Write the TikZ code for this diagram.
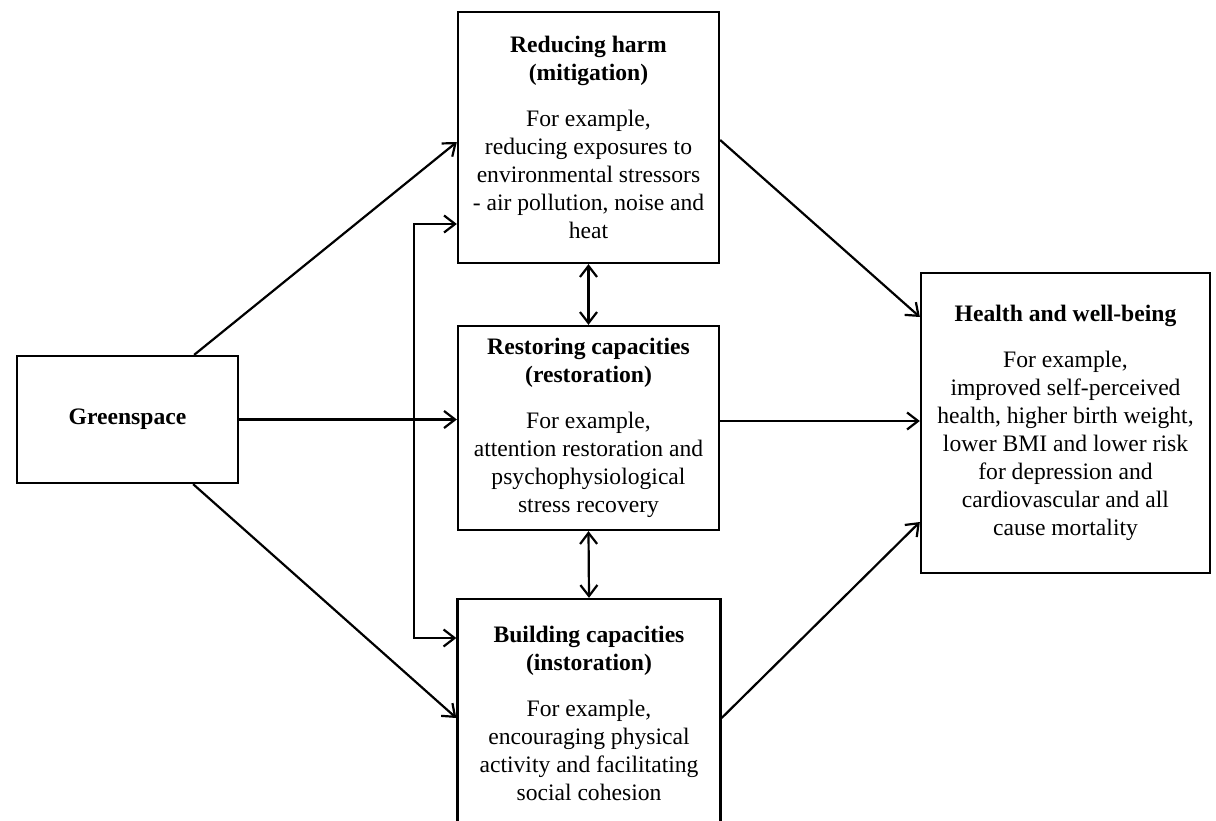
\documentclass[tikz,border=0pt]{standalone}
\usepackage{fontspec}
\setmainfont{Liberation Serif}
\usetikzlibrary{arrows.meta}
\tikzset{
  box/.style={draw, line width=2.3pt, rectangle, align=center, inner sep=0pt,
    font=\fontsize{23.6}{28}\selectfont},
  tip/.style={arrows={-Straight Barb[length=11pt,width=17pt]}},
  conn/.style={line width=2.2pt, tip},
  biconn/.style={line width=2.2pt, arrows={Straight Barb[length=11pt,width=17pt]-Straight Barb[length=11pt,width=17pt]}}
}
\begin{document}
\begin{tikzpicture}[x=1pt,y=-1pt]
\useasboundingbox (0,0) rectangle (1216,821);
\clip (0,0) rectangle (1216,821);
\node[box, minimum width=221pt, minimum height=127pt] (G) at (127.5,419.5) {\textbf{Greenspace}};
\node[box, minimum width=261pt, minimum height=251pt] (R) at (588.5,137.5)
 {\textbf{Reducing harm}\\\textbf{(mitigation)}\\[18pt]For example,\\reducing exposures to\\environmental stressors\\- air pollution, noise and\\heat};
\node[box, minimum width=261pt, minimum height=204pt] (S) at (588.5,428)
 {\textbf{Restoring capacities}\\\textbf{(restoration)}\\[18pt]For example,\\attention restoration and\\psychophysiological\\stress recovery};
\node[box, minimum width=263pt, minimum height=228pt] (B) at (589,713)
 {\textbf{Building capacities}\\\textbf{(instoration)}\\[18pt]For example,\\encouraging physical\\activity and facilitating\\social cohesion};
\node[box, minimum width=289pt, minimum height=300pt] (H) at (1065.5,423)
 {\textbf{Health and well-being}\\[18pt]For example,\\improved self-perceived\\health, higher birth weight,\\lower BMI and lower risk\\for depression and\\cardiovascular and all\\cause mortality};
\coordinate (m) at (0,421);
\coordinate (bt) at (414,224);
\coordinate (bb) at (414,638);
\draw[conn] ([xshift=-45pt]G.north east) -- ([yshift=-4.5pt]R.west);
\draw[conn] (G.east) -- (G.east -| S.west);
\draw[conn] ([xshift=-46pt]G.south east) -- ([yshift=-5pt]B.west);
\draw[conn] ([yshift=-2.5pt]R.east) -- ([yshift=106pt]H.west);
\draw[conn] (S.east |- m) -- (H.west |- m);
\draw[conn] ([yshift=-5pt]B.east) -- ([yshift=-99pt]H.west);
\draw[biconn] (R.south) -- (S.north);
\draw[biconn] (S.south) -- (B.north);
\draw[biconn] (bt -| R.west) -- (bt) -- (bb) -- (bb -| B.west);
\end{tikzpicture}
\end{document}
